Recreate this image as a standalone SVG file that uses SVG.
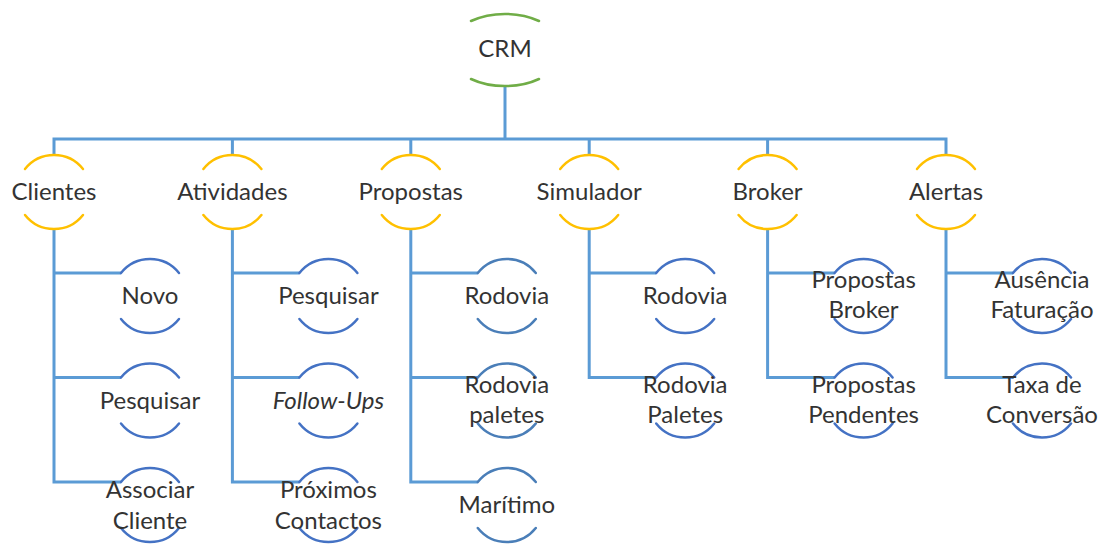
<svg xmlns="http://www.w3.org/2000/svg" width="1101" height="544" viewBox="0 0 1101 544">
  <style>
    .lbl { font-family: Lato, "Open Sans", sans-serif; font-size: 24px; fill: #333333; text-anchor: middle; }
    .arc { fill: none; stroke-width: 2.5; stroke-linecap: round; }
    .root { stroke: #70AD47; }
    .l2 { stroke: #FFC000; }
    .l3 { stroke: #4472C4; }
    .l3b { stroke: #4A7EB8; }
    .conn { fill: none; stroke: #5B9BD5; stroke-width: 3; }
  </style>
  <defs>
    <!-- circular arc pair used by level-2 and level-3 nodes, centred on 0,0 -->
    <g id="ring">
      <path d="M -29 -23 A 37 37 0 0 1 29 -23"/>
      <path d="M -29 23 A 37 37 0 0 0 29 23"/>
    </g>
  </defs>

  <!-- connectors -->
  <g id="connectors" class="conn">
    <path d="M 505 86 V 139"/>
    <path d="M 54 155 V 139 H 946 V 155"/>
    <path d="M 232.4 139 V 155 M 410.8 139 V 155 M 589.2 139 V 155 M 767.6 139 V 155"/>
    <!-- Clientes -->
    <path d="M 54 229 V 482 H 121 M 54 273 H 121 M 54 377.5 H 121"/>
    <!-- Atividades -->
    <path d="M 232.4 229 V 482 H 299.4 M 232.4 273 H 299.4 M 232.4 377.5 H 299.4"/>
    <!-- Propostas -->
    <path d="M 410.8 229 V 482 H 477.8 M 410.8 273 H 477.8 M 410.8 377.5 H 477.8"/>
    <!-- Simulador -->
    <path d="M 589.2 229 V 377.5 H 656.2 M 589.2 273 H 656.2"/>
    <!-- Broker -->
    <path d="M 767.6 229 V 377.5 H 834.6 M 767.6 273 H 834.6"/>
    <!-- Alertas -->
    <path d="M 946 229 V 377.5 H 1013 M 946 273 H 1013"/>
  </g>

  <!-- root -->
  <g id="crm">
    <path class="arc root" d="M 471 21 A 57 36 0 0 1 539 21"/>
    <path class="arc root" d="M 471 79 A 57 36 0 0 0 539 79"/>
    <text class="lbl" x="505" y="57">CRM</text>
  </g>

  <!-- level 2 -->
  <g id="clientes"><use href="#ring" class="arc l2" x="54" y="192"/><text class="lbl" x="54" y="200">Clientes</text></g>
  <g id="atividades"><use href="#ring" class="arc l2" x="232.4" y="192"/><text class="lbl" x="232.4" y="200">Atividades</text></g>
  <g id="propostas"><use href="#ring" class="arc l2" x="410.8" y="192"/><text class="lbl" x="410.8" y="200">Propostas</text></g>
  <g id="simulador"><use href="#ring" class="arc l2" x="589.2" y="192"/><text class="lbl" x="589.2" y="200">Simulador</text></g>
  <g id="broker"><use href="#ring" class="arc l2" x="767.6" y="192"/><text class="lbl" x="767.6" y="200">Broker</text></g>
  <g id="alertas"><use href="#ring" class="arc l2" x="946" y="192"/><text class="lbl" x="946" y="200">Alertas</text></g>

  <!-- level 3: Clientes -->
  <g id="cli-novo"><use href="#ring" class="arc l3" x="150" y="296"/><text class="lbl" x="150" y="304">Novo</text></g>
  <g id="cli-pesquisar"><use href="#ring" class="arc l3" x="150" y="400.5"/><text class="lbl" x="150" y="408.5">Pesquisar</text></g>
  <g id="cli-associar"><use href="#ring" class="arc l3" x="150" y="505"/><text class="lbl" x="150" y="498">Associar</text><text class="lbl" x="150" y="529">Cliente</text></g>

  <!-- level 3: Atividades -->
  <g id="atv-pesquisar"><use href="#ring" class="arc l3" x="328.4" y="296"/><text class="lbl" x="328.4" y="304">Pesquisar</text></g>
  <g id="atv-followups"><use href="#ring" class="arc l3" x="328.4" y="400.5"/><text class="lbl" x="328.4" y="408.5" font-style="italic">Follow-Ups</text></g>
  <g id="atv-proximos"><use href="#ring" class="arc l3" x="328.4" y="505"/><text class="lbl" x="328.4" y="498">Próximos</text><text class="lbl" x="328.4" y="529">Contactos</text></g>

  <!-- level 3: Propostas -->
  <g id="prp-rodovia"><use href="#ring" class="arc l3b" x="506.8" y="296"/><text class="lbl" x="506.8" y="304">Rodovia</text></g>
  <g id="prp-paletes"><use href="#ring" class="arc l3b" x="506.8" y="400.5"/><text class="lbl" x="506.8" y="393">Rodovia</text><text class="lbl" x="506.8" y="423">paletes</text></g>
  <g id="prp-maritimo"><use href="#ring" class="arc l3b" x="506.8" y="505"/><text class="lbl" x="506.8" y="513">Marítimo</text></g>

  <!-- level 3: Simulador -->
  <g id="sim-rodovia"><use href="#ring" class="arc l3" x="685.2" y="296"/><text class="lbl" x="685.2" y="304">Rodovia</text></g>
  <g id="sim-paletes"><use href="#ring" class="arc l3" x="685.2" y="400.5"/><text class="lbl" x="685.2" y="393">Rodovia</text><text class="lbl" x="685.2" y="423">Paletes</text></g>

  <!-- level 3: Broker -->
  <g id="brk-propostas"><use href="#ring" class="arc l3" x="863.6" y="296"/><text class="lbl" x="863.6" y="288">Propostas</text><text class="lbl" x="863.6" y="318">Broker</text></g>
  <g id="brk-pendentes"><use href="#ring" class="arc l3" x="863.6" y="400.5"/><text class="lbl" x="863.6" y="393">Propostas</text><text class="lbl" x="863.6" y="423">Pendentes</text></g>

  <!-- level 3: Alertas -->
  <g id="alr-faturacao"><use href="#ring" class="arc l3" x="1042" y="296"/><text class="lbl" x="1042" y="288">Ausência</text><text class="lbl" x="1042" y="318">Faturação</text></g>
  <g id="alr-conversao"><use href="#ring" class="arc l3" x="1042" y="400.5"/><text class="lbl" x="1042" y="393">Taxa de</text><text class="lbl" x="1042" y="423">Conversão</text></g>
</svg>
